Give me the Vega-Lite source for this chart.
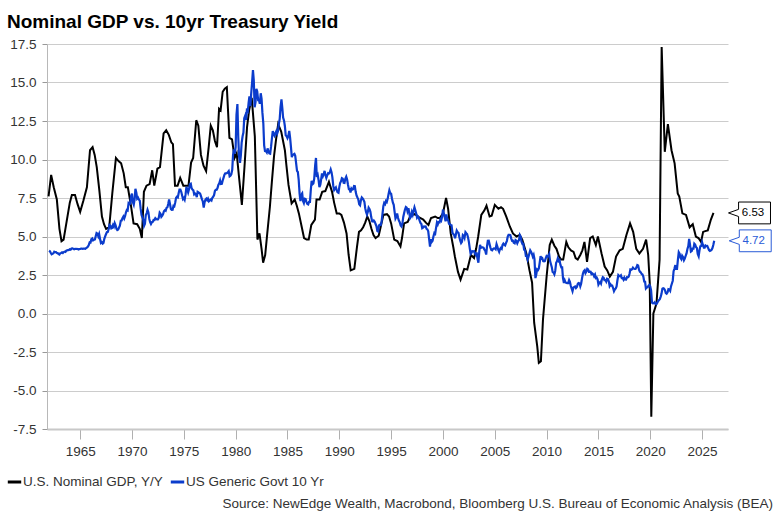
{
"$schema": "https://vega.github.io/schema/vega-lite/v6.json",
"width": 681,
"height": 385,
"autosize": {"type": "none"},
"padding": {"left": 47, "top": 44, "right": 52, "bottom": 93},
"background": "white",
"config": {"view": {"stroke": null}, "font": "Liberation Sans"},
"title": {"text": "Nominal GDP vs. 10yr Treasury Yield", "anchor": "start", "frame": "group", "font": "Liberation Sans", "fontSize": 19, "fontWeight": "bold", "color": "#000000", "dx": -40, "dy": 20, "baseline": "alphabetic", "offset": 10},
"datasets": {
"gdp": [
{"t":1961.95,"v":7.6},{"t":1962.2,"v":9.0},{"t":1962.45,"v":8.2},{"t":1962.75,"v":7.4},{"t":1963.0,"v":5.5},{"t":1963.2,"v":4.7},{"t":1963.4,"v":4.8},{"t":1963.7,"v":6.0},{"t":1964.0,"v":7.2},{"t":1964.2,"v":7.7},{"t":1964.5,"v":7.7},{"t":1964.75,"v":7.1},{"t":1965.0,"v":6.6},{"t":1965.3,"v":7.3},{"t":1965.65,"v":8.2},{"t":1965.95,"v":10.6},{"t":1966.2,"v":10.8},{"t":1966.4,"v":10.3},{"t":1966.6,"v":9.5},{"t":1966.85,"v":8.0},{"t":1967.1,"v":6.3},{"t":1967.3,"v":5.8},{"t":1967.5,"v":5.5},{"t":1967.8,"v":5.6},{"t":1968.1,"v":7.8},{"t":1968.45,"v":10.1},{"t":1968.7,"v":9.9},{"t":1968.95,"v":9.75},{"t":1969.2,"v":9.1},{"t":1969.4,"v":8.2},{"t":1969.6,"v":8.2},{"t":1969.9,"v":7.0},{"t":1970.15,"v":5.85},{"t":1970.5,"v":5.8},{"t":1970.75,"v":5.5},{"t":1970.95,"v":4.9},{"t":1971.15,"v":7.9},{"t":1971.4,"v":8.3},{"t":1971.7,"v":8.4},{"t":1971.95,"v":9.3},{"t":1972.15,"v":8.3},{"t":1972.45,"v":9.4},{"t":1972.7,"v":9.5},{"t":1973.05,"v":11.7},{"t":1973.3,"v":11.9},{"t":1973.55,"v":11.6},{"t":1973.8,"v":11.1},{"t":1973.95,"v":11.0},{"t":1974.15,"v":8.3},{"t":1974.4,"v":8.3},{"t":1974.65,"v":8.8},{"t":1974.95,"v":8.3},{"t":1975.2,"v":8.3},{"t":1975.45,"v":8.3},{"t":1975.7,"v":9.8},{"t":1975.9,"v":10.1},{"t":1976.2,"v":12.55},{"t":1976.4,"v":12.2},{"t":1976.65,"v":10.3},{"t":1976.9,"v":9.6},{"t":1977.15,"v":9.25},{"t":1977.4,"v":10.8},{"t":1977.6,"v":12.2},{"t":1977.8,"v":11.9},{"t":1978.0,"v":11.2},{"t":1978.2,"v":10.8},{"t":1978.4,"v":13.3},{"t":1978.55,"v":13.2},{"t":1978.75,"v":14.4},{"t":1978.95,"v":14.6},{"t":1979.15,"v":14.7},{"t":1979.4,"v":11.4},{"t":1979.65,"v":11.3},{"t":1979.9,"v":10.1},{"t":1980.1,"v":10.4},{"t":1980.35,"v":8.7},{"t":1980.6,"v":7.05},{"t":1980.85,"v":9.5},{"t":1981.1,"v":12.1},{"t":1981.3,"v":13.2},{"t":1981.55,"v":14.0},{"t":1981.85,"v":11.5},{"t":1982.1,"v":4.8},{"t":1982.3,"v":5.2},{"t":1982.5,"v":4.2},{"t":1982.65,"v":3.3},{"t":1982.85,"v":3.8},{"t":1983.05,"v":5.2},{"t":1983.3,"v":6.9},{"t":1983.5,"v":8.6},{"t":1983.7,"v":10.2},{"t":1983.9,"v":11.3},{"t":1984.1,"v":12.3},{"t":1984.4,"v":11.8},{"t":1984.75,"v":10.6},{"t":1984.9,"v":9.6},{"t":1985.1,"v":8.35},{"t":1985.4,"v":7.15},{"t":1985.7,"v":7.4},{"t":1985.9,"v":7.0},{"t":1986.1,"v":6.5},{"t":1986.35,"v":5.7},{"t":1986.6,"v":4.9},{"t":1986.85,"v":4.8},{"t":1987.05,"v":4.8},{"t":1987.3,"v":5.75},{"t":1987.65,"v":6.1},{"t":1987.8,"v":7.4},{"t":1988.1,"v":7.4},{"t":1988.35,"v":7.9},{"t":1988.65,"v":7.95},{"t":1989.0,"v":8.55},{"t":1989.3,"v":7.9},{"t":1989.5,"v":7.2},{"t":1989.75,"v":6.5},{"t":1990.0,"v":6.5},{"t":1990.2,"v":6.4},{"t":1990.45,"v":5.9},{"t":1990.7,"v":5.2},{"t":1990.9,"v":3.8},{"t":1991.1,"v":2.8},{"t":1991.45,"v":2.9},{"t":1991.7,"v":4.3},{"t":1991.9,"v":5.3},{"t":1992.1,"v":5.4},{"t":1992.3,"v":5.6},{"t":1992.5,"v":5.9},{"t":1992.7,"v":6.3},{"t":1992.9,"v":6.0},{"t":1993.1,"v":5.5},{"t":1993.3,"v":5.1},{"t":1993.5,"v":4.9},{"t":1993.8,"v":5.05},{"t":1994.05,"v":5.8},{"t":1994.25,"v":6.4},{"t":1994.6,"v":6.45},{"t":1994.8,"v":6.3},{"t":1995.0,"v":5.85},{"t":1995.3,"v":4.8},{"t":1995.6,"v":4.7},{"t":1995.9,"v":4.35},{"t":1996.05,"v":4.9},{"t":1996.25,"v":5.85},{"t":1996.6,"v":5.95},{"t":1996.9,"v":6.4},{"t":1997.3,"v":6.45},{"t":1997.7,"v":6.25},{"t":1998.1,"v":6.1},{"t":1998.35,"v":5.9},{"t":1998.6,"v":5.75},{"t":1998.85,"v":6.2},{"t":1999.25,"v":6.3},{"t":1999.5,"v":6.2},{"t":1999.7,"v":6.2},{"t":2000.0,"v":6.5},{"t":2000.3,"v":7.5},{"t":2000.5,"v":6.8},{"t":2000.75,"v":5.2},{"t":2001.0,"v":4.3},{"t":2001.15,"v":3.7},{"t":2001.45,"v":2.7},{"t":2001.7,"v":2.2},{"t":2002.05,"v":2.9},{"t":2002.35,"v":2.85},{"t":2002.7,"v":3.8},{"t":2003.0,"v":3.6},{"t":2003.2,"v":4.2},{"t":2003.4,"v":5.0},{"t":2003.7,"v":6.4},{"t":2004.0,"v":6.7},{"t":2004.2,"v":7.0},{"t":2004.5,"v":6.3},{"t":2004.7,"v":6.35},{"t":2005.0,"v":7.05},{"t":2005.35,"v":6.8},{"t":2005.6,"v":6.9},{"t":2005.8,"v":6.8},{"t":2006.1,"v":6.3},{"t":2006.45,"v":5.65},{"t":2006.75,"v":5.2},{"t":2007.1,"v":5.0},{"t":2007.4,"v":5.1},{"t":2007.65,"v":4.8},{"t":2008.05,"v":3.9},{"t":2008.35,"v":2.8},{"t":2008.6,"v":2.0},{"t":2008.8,"v":-0.6},{"t":2009.1,"v":-2.15},{"t":2009.25,"v":-3.2},{"t":2009.45,"v":-3.1},{"t":2009.65,"v":-0.4},{"t":2010.0,"v":2.4},{"t":2010.3,"v":4.45},{"t":2010.5,"v":4.8},{"t":2010.75,"v":4.4},{"t":2010.95,"v":4.2},{"t":2011.2,"v":3.7},{"t":2011.4,"v":3.5},{"t":2011.6,"v":3.5},{"t":2011.9,"v":4.65},{"t":2012.1,"v":4.3},{"t":2012.35,"v":4.1},{"t":2012.6,"v":4.0},{"t":2012.8,"v":3.6},{"t":2013.0,"v":3.5},{"t":2013.25,"v":3.8},{"t":2013.45,"v":4.1},{"t":2013.65,"v":4.65},{"t":2013.9,"v":3.35},{"t":2014.2,"v":4.9},{"t":2014.45,"v":5.0},{"t":2014.75,"v":4.45},{"t":2014.95,"v":5.0},{"t":2015.3,"v":3.9},{"t":2015.6,"v":3.05},{"t":2015.85,"v":2.8},{"t":2016.1,"v":2.4},{"t":2016.4,"v":2.7},{"t":2016.7,"v":3.7},{"t":2017.05,"v":4.1},{"t":2017.35,"v":4.2},{"t":2017.7,"v":5.1},{"t":2018.05,"v":5.85},{"t":2018.35,"v":5.3},{"t":2018.65,"v":4.2},{"t":2018.95,"v":3.9},{"t":2019.3,"v":4.2},{"t":2019.6,"v":4.8},{"t":2019.8,"v":3.8},{"t":2019.95,"v":2.0},{"t":2020.1,"v":-6.7},{"t":2020.3,"v":0.0},{"t":2020.6,"v":0.65},{"t":2020.9,"v":3.5},{"t":2021.1,"v":17.3},{"t":2021.4,"v":10.5},{"t":2021.7,"v":12.3},{"t":2022.05,"v":10.6},{"t":2022.35,"v":9.75},{"t":2022.65,"v":7.8},{"t":2022.8,"v":7.6},{"t":2023.1,"v":6.5},{"t":2023.45,"v":6.4},{"t":2023.8,"v":5.6},{"t":2024.1,"v":5.8},{"t":2024.4,"v":5.0},{"t":2024.65,"v":4.9},{"t":2024.9,"v":4.65},{"t":2025.1,"v":5.3},{"t":2025.3,"v":5.35},{"t":2025.55,"v":5.4},{"t":2025.85,"v":6.1},{"t":2026.1,"v":6.53}
],
"ust": [
{"t":1962.0,"v":4.08},{"t":1962.08,"v":4.04},{"t":1962.17,"v":3.93},{"t":1962.25,"v":3.84},{"t":1962.33,"v":3.87},{"t":1962.42,"v":3.91},{"t":1962.5,"v":4.01},{"t":1962.58,"v":3.98},{"t":1962.67,"v":3.98},{"t":1962.75,"v":3.93},{"t":1962.83,"v":3.92},{"t":1962.92,"v":3.86},
{"t":1963.0,"v":3.83},{"t":1963.08,"v":3.92},{"t":1963.17,"v":3.93},{"t":1963.25,"v":3.97},{"t":1963.33,"v":3.93},{"t":1963.42,"v":3.99},{"t":1963.5,"v":4.02},{"t":1963.58,"v":4.0},{"t":1963.67,"v":4.08},{"t":1963.75,"v":4.11},{"t":1963.83,"v":4.12},{"t":1963.92,"v":4.13},
{"t":1964.0,"v":4.17},{"t":1964.08,"v":4.15},{"t":1964.17,"v":4.22},{"t":1964.25,"v":4.23},{"t":1964.33,"v":4.2},{"t":1964.42,"v":4.17},{"t":1964.5,"v":4.19},{"t":1964.58,"v":4.19},{"t":1964.67,"v":4.2},{"t":1964.75,"v":4.19},{"t":1964.83,"v":4.15},{"t":1964.92,"v":4.18},
{"t":1965.0,"v":4.19},{"t":1965.08,"v":4.21},{"t":1965.17,"v":4.21},{"t":1965.25,"v":4.2},{"t":1965.33,"v":4.21},{"t":1965.42,"v":4.21},{"t":1965.5,"v":4.2},{"t":1965.58,"v":4.25},{"t":1965.67,"v":4.29},{"t":1965.75,"v":4.35},{"t":1965.83,"v":4.45},{"t":1965.92,"v":4.62},
{"t":1966.0,"v":4.61},{"t":1966.08,"v":4.83},{"t":1966.17,"v":4.87},{"t":1966.25,"v":4.75},{"t":1966.33,"v":4.78},{"t":1966.42,"v":4.81},{"t":1966.5,"v":5.02},{"t":1966.58,"v":5.22},{"t":1966.67,"v":5.18},{"t":1966.75,"v":5.01},{"t":1966.83,"v":5.16},{"t":1966.92,"v":4.84},
{"t":1967.0,"v":4.58},{"t":1967.08,"v":4.63},{"t":1967.17,"v":4.54},{"t":1967.25,"v":4.59},{"t":1967.33,"v":4.85},{"t":1967.42,"v":5.02},{"t":1967.5,"v":5.16},{"t":1967.58,"v":5.28},{"t":1967.67,"v":5.3},{"t":1967.75,"v":5.48},{"t":1967.83,"v":5.75},{"t":1967.92,"v":5.7},
{"t":1968.0,"v":5.53},{"t":1968.08,"v":5.56},{"t":1968.17,"v":5.74},{"t":1968.25,"v":5.64},{"t":1968.33,"v":5.87},{"t":1968.42,"v":5.72},{"t":1968.5,"v":5.5},{"t":1968.58,"v":5.42},{"t":1968.67,"v":5.46},{"t":1968.75,"v":5.58},{"t":1968.83,"v":5.7},{"t":1968.92,"v":6.03},
{"t":1969.0,"v":6.04},{"t":1969.08,"v":6.19},{"t":1969.17,"v":6.3},{"t":1969.25,"v":6.17},{"t":1969.33,"v":6.32},{"t":1969.42,"v":6.57},{"t":1969.5,"v":6.72},{"t":1969.58,"v":6.69},{"t":1969.67,"v":7.16},{"t":1969.75,"v":7.1},{"t":1969.83,"v":7.14},{"t":1969.92,"v":7.65},
{"t":1970.0,"v":7.79},{"t":1970.08,"v":7.24},{"t":1970.17,"v":7.07},{"t":1970.25,"v":7.39},{"t":1970.33,"v":8.1},{"t":1970.42,"v":7.84},{"t":1970.5,"v":7.46},{"t":1970.58,"v":7.53},{"t":1970.67,"v":7.39},{"t":1970.75,"v":7.33},{"t":1970.83,"v":6.84},{"t":1970.92,"v":6.39},
{"t":1971.0,"v":6.24},{"t":1971.08,"v":6.11},{"t":1971.17,"v":5.7},{"t":1971.25,"v":5.83},{"t":1971.33,"v":6.39},{"t":1971.42,"v":6.52},{"t":1971.5,"v":6.73},{"t":1971.58,"v":6.58},{"t":1971.67,"v":6.14},{"t":1971.75,"v":5.93},{"t":1971.83,"v":5.81},{"t":1971.92,"v":5.93},
{"t":1972.0,"v":5.95},{"t":1972.08,"v":6.08},{"t":1972.17,"v":6.07},{"t":1972.25,"v":6.19},{"t":1972.33,"v":6.13},{"t":1972.42,"v":6.11},{"t":1972.5,"v":6.11},{"t":1972.58,"v":6.21},{"t":1972.67,"v":6.55},{"t":1972.75,"v":6.48},{"t":1972.83,"v":6.28},{"t":1972.92,"v":6.36},
{"t":1973.0,"v":6.46},{"t":1973.08,"v":6.64},{"t":1973.17,"v":6.71},{"t":1973.25,"v":6.67},{"t":1973.33,"v":6.85},{"t":1973.42,"v":6.9},{"t":1973.5,"v":7.13},{"t":1973.58,"v":7.4},{"t":1973.67,"v":7.09},{"t":1973.75,"v":6.79},{"t":1973.83,"v":6.73},{"t":1973.92,"v":6.74},
{"t":1974.0,"v":6.99},{"t":1974.08,"v":6.96},{"t":1974.17,"v":7.21},{"t":1974.25,"v":7.51},{"t":1974.33,"v":7.58},{"t":1974.42,"v":7.54},{"t":1974.5,"v":7.81},{"t":1974.58,"v":8.04},{"t":1974.67,"v":8.04},{"t":1974.75,"v":7.9},{"t":1974.83,"v":7.68},{"t":1974.92,"v":7.43},
{"t":1975.0,"v":7.5},{"t":1975.08,"v":7.39},{"t":1975.17,"v":7.73},{"t":1975.25,"v":8.23},{"t":1975.33,"v":8.06},{"t":1975.42,"v":7.86},{"t":1975.5,"v":8.06},{"t":1975.58,"v":8.4},{"t":1975.67,"v":8.43},{"t":1975.75,"v":8.14},{"t":1975.83,"v":8.05},{"t":1975.92,"v":8.0},
{"t":1976.0,"v":7.74},{"t":1976.08,"v":7.79},{"t":1976.17,"v":7.73},{"t":1976.25,"v":7.56},{"t":1976.33,"v":7.9},{"t":1976.42,"v":7.86},{"t":1976.5,"v":7.83},{"t":1976.58,"v":7.77},{"t":1976.67,"v":7.59},{"t":1976.75,"v":7.41},{"t":1976.83,"v":7.29},{"t":1976.92,"v":6.87},
{"t":1977.0,"v":7.21},{"t":1977.08,"v":7.39},{"t":1977.17,"v":7.46},{"t":1977.25,"v":7.37},{"t":1977.33,"v":7.46},{"t":1977.42,"v":7.28},{"t":1977.5,"v":7.33},{"t":1977.58,"v":7.4},{"t":1977.67,"v":7.34},{"t":1977.75,"v":7.52},{"t":1977.83,"v":7.58},{"t":1977.92,"v":7.69},
{"t":1978.0,"v":7.96},{"t":1978.08,"v":8.03},{"t":1978.17,"v":8.04},{"t":1978.25,"v":8.15},{"t":1978.33,"v":8.35},{"t":1978.42,"v":8.46},{"t":1978.5,"v":8.64},{"t":1978.58,"v":8.41},{"t":1978.67,"v":8.42},{"t":1978.75,"v":8.64},{"t":1978.83,"v":8.81},{"t":1978.92,"v":9.01},
{"t":1979.0,"v":9.1},{"t":1979.08,"v":9.1},{"t":1979.17,"v":9.12},{"t":1979.25,"v":9.18},{"t":1979.33,"v":9.25},{"t":1979.42,"v":8.91},{"t":1979.5,"v":8.95},{"t":1979.58,"v":9.03},{"t":1979.67,"v":9.33},{"t":1979.75,"v":10.3},{"t":1979.83,"v":10.65},{"t":1979.92,"v":10.39},
{"t":1980.0,"v":10.8},{"t":1980.08,"v":12.9},{"t":1980.17,"v":13.6},{"t":1980.25,"v":11.47},{"t":1980.33,"v":10.18},{"t":1980.42,"v":9.78},{"t":1980.5,"v":10.25},{"t":1980.58,"v":11.1},{"t":1980.67,"v":11.51},{"t":1980.75,"v":11.75},{"t":1980.83,"v":12.68},{"t":1980.92,"v":12.84},
{"t":1981.0,"v":12.57},{"t":1981.08,"v":13.19},{"t":1981.17,"v":13.12},{"t":1981.25,"v":13.68},{"t":1981.33,"v":14.1},{"t":1981.42,"v":13.47},{"t":1981.5,"v":14.28},{"t":1981.58,"v":14.94},{"t":1981.67,"v":15.8},{"t":1981.75,"v":15.15},{"t":1981.83,"v":13.39},{"t":1981.92,"v":13.72},
{"t":1982.0,"v":14.59},{"t":1982.08,"v":14.43},{"t":1982.17,"v":13.86},{"t":1982.25,"v":13.87},{"t":1982.33,"v":13.62},{"t":1982.42,"v":14.3},{"t":1982.5,"v":13.95},{"t":1982.58,"v":13.06},{"t":1982.67,"v":12.34},{"t":1982.75,"v":10.91},{"t":1982.83,"v":10.55},{"t":1982.92,"v":10.54},
{"t":1983.0,"v":10.46},{"t":1983.08,"v":10.72},{"t":1983.17,"v":10.51},{"t":1983.25,"v":10.4},{"t":1983.33,"v":10.38},{"t":1983.42,"v":10.85},{"t":1983.5,"v":11.38},{"t":1983.58,"v":11.85},{"t":1983.67,"v":11.65},{"t":1983.75,"v":11.54},{"t":1983.83,"v":11.69},{"t":1983.92,"v":11.83},
{"t":1984.0,"v":11.67},{"t":1984.08,"v":11.84},{"t":1984.17,"v":12.32},{"t":1984.25,"v":12.63},{"t":1984.33,"v":13.41},{"t":1984.42,"v":13.9},{"t":1984.5,"v":13.36},{"t":1984.58,"v":12.72},{"t":1984.67,"v":12.52},{"t":1984.75,"v":12.16},{"t":1984.83,"v":11.57},{"t":1984.92,"v":11.5},
{"t":1985.0,"v":11.38},{"t":1985.08,"v":11.51},{"t":1985.17,"v":11.86},{"t":1985.25,"v":11.43},{"t":1985.33,"v":10.85},{"t":1985.42,"v":10.16},{"t":1985.5,"v":10.31},{"t":1985.58,"v":10.33},{"t":1985.67,"v":10.37},{"t":1985.75,"v":10.24},{"t":1985.83,"v":9.78},{"t":1985.92,"v":9.26},
{"t":1986.0,"v":9.19},{"t":1986.08,"v":8.7},{"t":1986.17,"v":7.78},{"t":1986.25,"v":7.3},{"t":1986.33,"v":7.71},{"t":1986.42,"v":7.8},{"t":1986.5,"v":7.3},{"t":1986.58,"v":7.17},{"t":1986.67,"v":7.45},{"t":1986.75,"v":7.43},{"t":1986.83,"v":7.25},{"t":1986.92,"v":7.11},
{"t":1987.0,"v":7.08},{"t":1987.08,"v":7.25},{"t":1987.17,"v":7.25},{"t":1987.25,"v":8.02},{"t":1987.33,"v":8.61},{"t":1987.42,"v":8.4},{"t":1987.5,"v":8.45},{"t":1987.58,"v":8.76},{"t":1987.67,"v":9.6},{"t":1987.75,"v":10.1},{"t":1987.83,"v":8.86},{"t":1987.92,"v":8.99},
{"t":1988.0,"v":8.67},{"t":1988.08,"v":8.21},{"t":1988.17,"v":8.37},{"t":1988.25,"v":8.72},{"t":1988.33,"v":9.09},{"t":1988.42,"v":8.92},{"t":1988.5,"v":9.06},{"t":1988.58,"v":9.26},{"t":1988.67,"v":8.98},{"t":1988.75,"v":8.8},{"t":1988.83,"v":8.96},{"t":1988.92,"v":9.11},
{"t":1989.0,"v":9.09},{"t":1989.08,"v":9.17},{"t":1989.17,"v":9.36},{"t":1989.25,"v":9.18},{"t":1989.33,"v":8.86},{"t":1989.42,"v":8.28},{"t":1989.5,"v":8.02},{"t":1989.58,"v":8.11},{"t":1989.67,"v":8.19},{"t":1989.75,"v":8.01},{"t":1989.83,"v":7.87},{"t":1989.92,"v":7.84},
{"t":1990.0,"v":8.21},{"t":1990.08,"v":8.47},{"t":1990.17,"v":8.59},{"t":1990.25,"v":8.79},{"t":1990.33,"v":8.76},{"t":1990.42,"v":8.48},{"t":1990.5,"v":8.47},{"t":1990.58,"v":8.75},{"t":1990.67,"v":8.89},{"t":1990.75,"v":8.72},{"t":1990.83,"v":8.39},{"t":1990.92,"v":8.08},
{"t":1991.0,"v":8.09},{"t":1991.08,"v":7.85},{"t":1991.17,"v":8.11},{"t":1991.25,"v":8.04},{"t":1991.33,"v":8.07},{"t":1991.42,"v":8.28},{"t":1991.5,"v":8.27},{"t":1991.58,"v":7.9},{"t":1991.67,"v":7.65},{"t":1991.75,"v":7.53},{"t":1991.83,"v":7.42},{"t":1991.92,"v":7.09},
{"t":1992.0,"v":7.03},{"t":1992.08,"v":7.34},{"t":1992.17,"v":7.54},{"t":1992.25,"v":7.48},{"t":1992.33,"v":7.39},{"t":1992.42,"v":7.26},{"t":1992.5,"v":6.84},{"t":1992.58,"v":6.59},{"t":1992.67,"v":6.42},{"t":1992.75,"v":6.59},{"t":1992.83,"v":6.87},{"t":1992.92,"v":6.77},
{"t":1993.0,"v":6.6},{"t":1993.08,"v":6.26},{"t":1993.17,"v":5.98},{"t":1993.25,"v":5.97},{"t":1993.33,"v":6.04},{"t":1993.42,"v":5.96},{"t":1993.5,"v":5.81},{"t":1993.58,"v":5.68},{"t":1993.67,"v":5.36},{"t":1993.75,"v":5.33},{"t":1993.83,"v":5.72},{"t":1993.92,"v":5.77},
{"t":1994.0,"v":5.75},{"t":1994.08,"v":5.97},{"t":1994.17,"v":6.48},{"t":1994.25,"v":6.97},{"t":1994.33,"v":7.18},{"t":1994.42,"v":7.1},{"t":1994.5,"v":7.3},{"t":1994.58,"v":7.24},{"t":1994.67,"v":7.46},{"t":1994.75,"v":7.74},{"t":1994.83,"v":8.0},{"t":1994.92,"v":7.81},
{"t":1995.0,"v":7.78},{"t":1995.08,"v":7.47},{"t":1995.17,"v":7.2},{"t":1995.25,"v":7.06},{"t":1995.33,"v":6.63},{"t":1995.42,"v":6.17},{"t":1995.5,"v":6.28},{"t":1995.58,"v":6.49},{"t":1995.67,"v":6.2},{"t":1995.75,"v":6.04},{"t":1995.83,"v":5.93},{"t":1995.92,"v":5.71},
{"t":1996.0,"v":5.65},{"t":1996.08,"v":5.81},{"t":1996.17,"v":6.27},{"t":1996.25,"v":6.51},{"t":1996.33,"v":6.74},{"t":1996.42,"v":6.91},{"t":1996.5,"v":6.87},{"t":1996.58,"v":6.64},{"t":1996.67,"v":6.83},{"t":1996.75,"v":6.53},{"t":1996.83,"v":6.2},{"t":1996.92,"v":6.3},
{"t":1997.0,"v":6.58},{"t":1997.08,"v":6.42},{"t":1997.17,"v":6.69},{"t":1997.25,"v":6.89},{"t":1997.33,"v":6.71},{"t":1997.42,"v":6.49},{"t":1997.5,"v":6.22},{"t":1997.58,"v":6.3},{"t":1997.67,"v":6.21},{"t":1997.75,"v":6.03},{"t":1997.83,"v":5.88},{"t":1997.92,"v":5.81},
{"t":1998.0,"v":5.54},{"t":1998.08,"v":5.57},{"t":1998.17,"v":5.65},{"t":1998.25,"v":5.64},{"t":1998.33,"v":5.65},{"t":1998.42,"v":5.5},{"t":1998.5,"v":5.46},{"t":1998.58,"v":5.34},{"t":1998.67,"v":4.81},{"t":1998.75,"v":4.35},{"t":1998.83,"v":4.83},{"t":1998.92,"v":4.65},
{"t":1999.0,"v":4.72},{"t":1999.08,"v":5.0},{"t":1999.17,"v":5.23},{"t":1999.25,"v":5.18},{"t":1999.33,"v":5.54},{"t":1999.42,"v":5.9},{"t":1999.5,"v":5.79},{"t":1999.58,"v":5.94},{"t":1999.67,"v":5.92},{"t":1999.75,"v":6.11},{"t":1999.83,"v":6.03},{"t":1999.92,"v":6.28},
{"t":2000.0,"v":6.75},{"t":2000.08,"v":6.52},{"t":2000.17,"v":6.26},{"t":2000.25,"v":5.99},{"t":2000.33,"v":6.44},{"t":2000.42,"v":6.1},{"t":2000.5,"v":6.05},{"t":2000.58,"v":5.83},{"t":2000.67,"v":5.8},{"t":2000.75,"v":5.74},{"t":2000.83,"v":5.72},{"t":2000.92,"v":5.24},
{"t":2001.0,"v":5.16},{"t":2001.08,"v":5.1},{"t":2001.17,"v":4.89},{"t":2001.25,"v":5.14},{"t":2001.33,"v":5.39},{"t":2001.42,"v":5.28},{"t":2001.5,"v":5.24},{"t":2001.58,"v":4.97},{"t":2001.67,"v":4.73},{"t":2001.75,"v":4.57},{"t":2001.83,"v":4.65},{"t":2001.92,"v":5.09},
{"t":2002.0,"v":5.04},{"t":2002.08,"v":4.91},{"t":2002.17,"v":5.28},{"t":2002.25,"v":5.21},{"t":2002.33,"v":5.16},{"t":2002.42,"v":4.93},{"t":2002.5,"v":4.65},{"t":2002.58,"v":4.26},{"t":2002.67,"v":3.87},{"t":2002.75,"v":3.94},{"t":2002.83,"v":4.05},{"t":2002.92,"v":4.03},
{"t":2003.0,"v":4.05},{"t":2003.08,"v":3.9},{"t":2003.17,"v":3.81},{"t":2003.25,"v":3.96},{"t":2003.33,"v":3.57},{"t":2003.42,"v":3.3},{"t":2003.5,"v":3.98},{"t":2003.58,"v":4.45},{"t":2003.67,"v":4.27},{"t":2003.75,"v":4.29},{"t":2003.83,"v":4.3},{"t":2003.92,"v":4.27},
{"t":2004.0,"v":4.15},{"t":2004.08,"v":4.08},{"t":2004.17,"v":3.83},{"t":2004.25,"v":4.35},{"t":2004.33,"v":4.72},{"t":2004.42,"v":4.73},{"t":2004.5,"v":4.5},{"t":2004.58,"v":4.28},{"t":2004.67,"v":4.13},{"t":2004.75,"v":4.1},{"t":2004.83,"v":4.19},{"t":2004.92,"v":4.23},
{"t":2005.0,"v":4.22},{"t":2005.08,"v":4.17},{"t":2005.17,"v":4.5},{"t":2005.25,"v":4.34},{"t":2005.33,"v":4.14},{"t":2005.42,"v":4.0},{"t":2005.5,"v":4.18},{"t":2005.58,"v":4.26},{"t":2005.67,"v":4.2},{"t":2005.75,"v":4.46},{"t":2005.83,"v":4.54},{"t":2005.92,"v":4.47},
{"t":2006.0,"v":4.42},{"t":2006.08,"v":4.57},{"t":2006.17,"v":4.72},{"t":2006.25,"v":4.99},{"t":2006.33,"v":5.11},{"t":2006.42,"v":5.11},{"t":2006.5,"v":5.09},{"t":2006.58,"v":4.88},{"t":2006.67,"v":4.72},{"t":2006.75,"v":4.73},{"t":2006.83,"v":4.6},{"t":2006.92,"v":4.56},
{"t":2007.0,"v":4.76},{"t":2007.08,"v":4.72},{"t":2007.17,"v":4.56},{"t":2007.25,"v":4.69},{"t":2007.33,"v":4.75},{"t":2007.42,"v":5.1},{"t":2007.5,"v":5.0},{"t":2007.58,"v":4.67},{"t":2007.67,"v":4.52},{"t":2007.75,"v":4.53},{"t":2007.83,"v":4.15},{"t":2007.92,"v":4.1},
{"t":2008.0,"v":3.74},{"t":2008.08,"v":3.74},{"t":2008.17,"v":3.51},{"t":2008.25,"v":3.68},{"t":2008.33,"v":3.88},{"t":2008.42,"v":4.1},{"t":2008.5,"v":4.01},{"t":2008.58,"v":3.89},{"t":2008.67,"v":3.69},{"t":2008.75,"v":3.81},{"t":2008.83,"v":3.53},{"t":2008.92,"v":2.3},
{"t":2009.0,"v":2.52},{"t":2009.08,"v":2.87},{"t":2009.17,"v":2.82},{"t":2009.25,"v":2.93},{"t":2009.33,"v":3.29},{"t":2009.42,"v":3.72},{"t":2009.5,"v":3.56},{"t":2009.58,"v":3.59},{"t":2009.67,"v":3.4},{"t":2009.75,"v":3.39},{"t":2009.83,"v":3.4},{"t":2009.92,"v":3.59},
{"t":2010.0,"v":3.73},{"t":2010.08,"v":3.69},{"t":2010.17,"v":3.73},{"t":2010.25,"v":3.85},{"t":2010.33,"v":3.42},{"t":2010.42,"v":3.2},{"t":2010.5,"v":3.01},{"t":2010.58,"v":2.7},{"t":2010.67,"v":2.65},{"t":2010.75,"v":2.54},{"t":2010.83,"v":2.76},{"t":2010.92,"v":3.29},
{"t":2011.0,"v":3.39},{"t":2011.08,"v":3.58},{"t":2011.17,"v":3.41},{"t":2011.25,"v":3.46},{"t":2011.33,"v":3.17},{"t":2011.42,"v":3.0},{"t":2011.5,"v":3.0},{"t":2011.58,"v":2.3},{"t":2011.67,"v":1.98},{"t":2011.75,"v":2.15},{"t":2011.83,"v":2.01},{"t":2011.92,"v":1.98},
{"t":2012.0,"v":1.97},{"t":2012.08,"v":1.97},{"t":2012.17,"v":2.17},{"t":2012.25,"v":2.05},{"t":2012.33,"v":1.8},{"t":2012.42,"v":1.62},{"t":2012.5,"v":1.45},{"t":2012.58,"v":1.68},{"t":2012.67,"v":1.72},{"t":2012.75,"v":1.75},{"t":2012.83,"v":1.65},{"t":2012.92,"v":1.72},
{"t":2013.0,"v":1.91},{"t":2013.08,"v":1.98},{"t":2013.17,"v":1.96},{"t":2013.25,"v":1.76},{"t":2013.33,"v":1.93},{"t":2013.42,"v":2.3},{"t":2013.5,"v":2.58},{"t":2013.58,"v":2.74},{"t":2013.67,"v":2.81},{"t":2013.75,"v":2.62},{"t":2013.83,"v":2.72},{"t":2013.92,"v":2.9},
{"t":2014.0,"v":2.86},{"t":2014.08,"v":2.71},{"t":2014.17,"v":2.72},{"t":2014.25,"v":2.71},{"t":2014.33,"v":2.56},{"t":2014.42,"v":2.6},{"t":2014.5,"v":2.54},{"t":2014.58,"v":2.42},{"t":2014.67,"v":2.53},{"t":2014.75,"v":2.3},{"t":2014.83,"v":2.33},{"t":2014.92,"v":2.21},
{"t":2015.0,"v":1.88},{"t":2015.08,"v":1.98},{"t":2015.17,"v":2.04},{"t":2015.25,"v":1.94},{"t":2015.33,"v":2.2},{"t":2015.42,"v":2.36},{"t":2015.5,"v":2.32},{"t":2015.58,"v":2.17},{"t":2015.67,"v":2.17},{"t":2015.75,"v":2.07},{"t":2015.83,"v":2.26},{"t":2015.92,"v":2.24},
{"t":2016.0,"v":2.09},{"t":2016.08,"v":1.78},{"t":2016.17,"v":1.89},{"t":2016.25,"v":1.81},{"t":2016.33,"v":1.81},{"t":2016.42,"v":1.64},{"t":2016.5,"v":1.45},{"t":2016.58,"v":1.56},{"t":2016.67,"v":1.63},{"t":2016.75,"v":1.76},{"t":2016.83,"v":2.14},{"t":2016.92,"v":2.49},
{"t":2017.0,"v":2.43},{"t":2017.08,"v":2.42},{"t":2017.17,"v":2.48},{"t":2017.25,"v":2.3},{"t":2017.33,"v":2.3},{"t":2017.42,"v":2.19},{"t":2017.5,"v":2.32},{"t":2017.58,"v":2.21},{"t":2017.67,"v":2.2},{"t":2017.75,"v":2.36},{"t":2017.83,"v":2.35},{"t":2017.92,"v":2.4},
{"t":2018.0,"v":2.58},{"t":2018.08,"v":2.86},{"t":2018.17,"v":2.84},{"t":2018.25,"v":2.87},{"t":2018.33,"v":2.98},{"t":2018.42,"v":2.91},{"t":2018.5,"v":2.89},{"t":2018.58,"v":2.89},{"t":2018.67,"v":3.0},{"t":2018.75,"v":3.15},{"t":2018.83,"v":3.12},{"t":2018.92,"v":2.83},
{"t":2019.0,"v":2.71},{"t":2019.08,"v":2.68},{"t":2019.17,"v":2.57},{"t":2019.25,"v":2.53},{"t":2019.33,"v":2.4},{"t":2019.42,"v":2.07},{"t":2019.5,"v":2.06},{"t":2019.58,"v":1.63},{"t":2019.67,"v":1.7},{"t":2019.75,"v":1.71},{"t":2019.83,"v":1.81},{"t":2019.92,"v":1.86},
{"t":2020.0,"v":1.76},{"t":2020.08,"v":1.5},{"t":2020.17,"v":0.7},{"t":2020.25,"v":0.66},{"t":2020.33,"v":0.67},{"t":2020.42,"v":0.73},{"t":2020.5,"v":0.62},{"t":2020.58,"v":0.6},{"t":2020.67,"v":0.68},{"t":2020.75,"v":0.79},{"t":2020.83,"v":0.87},{"t":2020.92,"v":0.93},
{"t":2021.0,"v":1.08},{"t":2021.08,"v":1.26},{"t":2021.17,"v":1.61},{"t":2021.25,"v":1.64},{"t":2021.33,"v":1.62},{"t":2021.42,"v":1.52},{"t":2021.5,"v":1.32},{"t":2021.58,"v":1.28},{"t":2021.67,"v":1.37},{"t":2021.75,"v":1.58},{"t":2021.83,"v":1.56},{"t":2021.92,"v":1.47},
{"t":2022.0,"v":1.76},{"t":2022.08,"v":1.93},{"t":2022.17,"v":2.13},{"t":2022.25,"v":2.75},{"t":2022.33,"v":2.9},{"t":2022.42,"v":3.14},{"t":2022.5,"v":2.9},{"t":2022.58,"v":2.9},{"t":2022.67,"v":3.52},{"t":2022.75,"v":3.98},{"t":2022.83,"v":3.89},{"t":2022.92,"v":3.62},
{"t":2023.0,"v":3.53},{"t":2023.08,"v":3.75},{"t":2023.17,"v":3.66},{"t":2023.25,"v":3.46},{"t":2023.33,"v":3.57},{"t":2023.42,"v":3.75},{"t":2023.5,"v":3.9},{"t":2023.58,"v":4.17},{"t":2023.67,"v":4.38},{"t":2023.75,"v":4.85},{"t":2023.83,"v":4.5},{"t":2023.92,"v":4.02},
{"t":2024.0,"v":4.06},{"t":2024.08,"v":4.21},{"t":2024.17,"v":4.21},{"t":2024.25,"v":4.54},{"t":2024.33,"v":4.48},{"t":2024.42,"v":4.31},{"t":2024.5,"v":4.25},{"t":2024.58,"v":3.87},{"t":2024.67,"v":3.72},{"t":2024.75,"v":4.1},{"t":2024.83,"v":4.36},{"t":2024.92,"v":4.39},
{"t":2025.0,"v":4.63},{"t":2025.08,"v":4.45},{"t":2025.17,"v":4.28},{"t":2025.25,"v":4.28},{"t":2025.33,"v":4.42},{"t":2025.42,"v":4.38},{"t":2025.5,"v":4.39},{"t":2025.58,"v":4.26},{"t":2025.67,"v":4.12},{"t":2025.75,"v":4.06},{"t":2025.83,"v":4.09},{"t":2025.92,"v":4.14},
{"t":2026.0,"v":4.25},{"t":2026.08,"v":4.45},{"t":2026.17,"v":4.72}
],
"last": [
{"s":"U.S. Nominal GDP, Y/Y","t":2026.1,"v":6.53},
{"s":"US Generic Govt 10 Yr","t":2026.17,"v":4.72}
]
},
"encoding": {
"x": {"field": "t", "type": "quantitative", "scale": {"domain": [1961.8, 2027.5], "nice": false, "zero": false},
 "axis": {"values": [1965,1970,1975,1980,1985,1990,1995,2000,2005,2010,2015,2020,2025], "format": "d", "grid": false, "domainColor": "#c8c8c8", "domainWidth": 2, "tickColor": "#b0b0b0", "tickSize": 10, "labelPadding": 5, "labelFont": "Liberation Sans", "labelFontSize": 13.5, "labelColor": "#333333", "labelFlush": false,
  "title": "Source: NewEdge Wealth, Macrobond, Bloomberg U.S. Bureau of Economic Analysis (BEA)", "titleFont": "Liberation Sans", "titleFontSize": 13.5, "titleFontWeight": "normal", "titleColor": "#333333", "titleAnchor": "end", "titleAlign": "right", "titleX": 725.5, "titleY": 74, "titleBaseline": "middle"}},
"y": {"field": "v", "type": "quantitative", "scale": {"domain": [-7.5, 17.5], "nice": false, "zero": false},
 "axis": {"values": [-7.5,-5,-2.5,0,2.5,5,7.5,10,12.5,15,17.5], "labelExpr": "datum.value < 0 ? '-' + format(-datum.value, '.1f') : format(datum.value, '.1f')", "title": null, "grid": true, "gridColor": "#cccccc", "gridWidth": 1, "domainColor": "#b8b8b8", "tickColor": "#999999", "tickSize": 5, "labelPadding": 6, "labelFont": "Liberation Sans", "labelFontSize": 13.5, "labelColor": "#333333"}}
},
"layer": [
{"data": {"name": "gdp"}, "mark": {"type": "line", "strokeWidth": 2, "color": "#000000"},
 "encoding": {"color": {"datum": "U.S. Nominal GDP, Y/Y", "type": "nominal",
  "scale": {"domain": ["U.S. Nominal GDP, Y/Y", "US Generic Govt 10 Yr"], "range": ["#000000", "#0b3ccc"]},
  "legend": {"orient": "none", "legendX": -41, "legendY": 429.5, "direction": "horizontal", "columns": 2, "title": null, "symbolType": "stroke", "symbolSize": 180, "symbolStrokeWidth": 3, "labelFont": "Liberation Sans", "labelFontSize": 13.5, "labelColor": "#333333", "columnPadding": 0, "labelOffset": 0, "padding": 0}}}},
{"data": {"name": "ust"}, "mark": {"type": "line", "strokeWidth": 2.2},
 "encoding": {"color": {"datum": "US Generic Govt 10 Yr", "type": "nominal"}}},
{"data": {"name": "last"}, "mark": {"type": "point", "shape": "M-1,0L-0.52,-0.17L-0.52,-0.52L1,-0.52L1,0.52L-0.52,0.52L-0.52,0.17Z", "size": 1764, "filled": false, "strokeWidth": 1, "opacity": 1, "xOffset": 36},
 "encoding": {"stroke": {"field": "s", "type": "nominal", "scale": {"domain": ["U.S. Nominal GDP, Y/Y", "US Generic Govt 10 Yr"], "range": ["#000000", "#2a5bd7"]}, "legend": null}}},
{"data": {"name": "last"}, "mark": {"type": "text", "dx": 39.5, "align": "center", "baseline": "middle", "fontSize": 11.5, "font": "Liberation Sans"},
 "encoding": {"text": {"field": "v", "type": "quantitative", "format": ".2f"}, "fill": {"field": "s", "type": "nominal", "scale": {"domain": ["U.S. Nominal GDP, Y/Y", "US Generic Govt 10 Yr"], "range": ["#000000", "#2a5bd7"]}, "legend": null}}}
]
}
